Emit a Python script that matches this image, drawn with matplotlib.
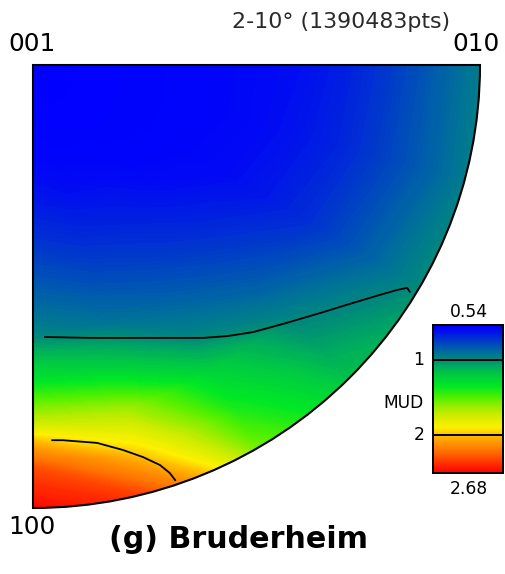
import numpy as np
import matplotlib
matplotlib.use("Agg")
import matplotlib.pyplot as plt
from matplotlib.colors import LinearSegmentedColormap, FuncNorm
from matplotlib.patches import Wedge

# MUD values on a polar grid centred on 001
# rows: angle from the 001-010 edge (deg), columns: distance from 001 (1 = primitive circle)
theta_deg = [0, 15, 30, 45, 60, 75, 90]
radius = [0, 0.1, 0.2, 0.3, 0.4, 0.5, 0.6, 0.7, 0.8, 0.9, 1.0]
mud = [
    [0.55, 0.55, 0.56, 0.57, 0.58, 0.60, 0.62, 0.67, 0.75, 0.85, 0.95],
    [0.55, 0.55, 0.56, 0.57, 0.58, 0.60, 0.63, 0.68, 0.76, 0.85, 0.95],
    [0.55, 0.55, 0.56, 0.57, 0.59, 0.61, 0.65, 0.71, 0.80, 0.90, 1.00],
    [0.55, 0.55, 0.56, 0.58, 0.62, 0.68, 0.76, 0.85, 0.97, 1.07, 1.17],
    [0.55, 0.55, 0.57, 0.61, 0.67, 0.75, 0.85, 0.97, 1.25, 1.42, 1.58],
    [0.55, 0.55, 0.57, 0.62, 0.70, 0.80, 0.92, 1.22, 1.65, 1.97, 2.45],
    [0.55, 0.56, 0.58, 0.64, 0.73, 0.84, 0.96, 1.30, 1.72, 2.40, 2.68],
]

# contour lines as drawn (x toward 010, y toward 100, radius 1)
mud1_x = [0.027, 0.128, 0.380, 0.434, 0.492, 0.568, 0.642, 0.716, 0.776, 0.814, 0.837, 0.843]
mud1_y = [0.614, 0.616, 0.616, 0.612, 0.603, 0.582, 0.560, 0.537, 0.519, 0.508, 0.503, 0.512]
mud2_x = [0.043, 0.067, 0.143, 0.201, 0.246, 0.284, 0.306, 0.318]
mud2_y = [0.847, 0.847, 0.853, 0.869, 0.885, 0.903, 0.921, 0.937]

mud_min = 0.54
mud_max = 2.68
contour_levels = [1, 2]
title = "2-10° (1390483pts)"
panel_label = "(g) Bruderheim"

W, H = 506, 574

def fx(px):
    return px / W

def fy(py):
    return 1 - py / H

# colour scale is stretched: 1 and 2 sit at these fractions of the bar
norm_vals = [mud_min, 1, 2, mud_max]
norm_frac = [0, 0.236, 0.743, 1]
norm = FuncNorm((lambda v: np.interp(v, norm_vals, norm_frac),
                 lambda f: np.interp(f, norm_frac, norm_vals)),
                vmin=mud_min, vmax=mud_max)

cmap_vals = [0.54, 0.60, 0.75, 0.90, 1.00, 1.10, 1.20, 1.35, 1.50, 1.60, 1.72, 1.90,
             2.00, 2.10, 2.30, 2.50, 2.68]
cmap_cols = ["#0000ff", "#0008f5", "#003cc8", "#00709a", "#008c78", "#00b05a", "#00cc40",
             "#00e824", "#50f000", "#8cee00", "#c8ec00", "#fff000", "#ffc000", "#ffa000",
             "#ff7000", "#ff3200", "#ff0000"]
cmap_pos = np.interp(cmap_vals, norm_vals, norm_frac)
cmap = LinearSegmentedColormap.from_list("mud", list(zip(cmap_pos, cmap_cols)))

fig = plt.figure(figsize=(W / 100, H / 100), dpi=100)
ax = fig.add_axes([fx(33), fy(508), fx(480) - fx(33), fy(65) - fy(508)])
ax.set_xlim(0, 1)
ax.set_ylim(1, 0)
ax.axis("off")

T, R = np.meshgrid(np.radians(theta_deg), radius, indexing="ij")
Z = np.array(mud)

# push the mesh a little out so the chords cover the arc, then clip to the circle
grow = 1 / np.cos(np.radians(7.5))
X = R * np.cos(T) * grow
Y = R * np.sin(T) * grow
levels = np.linspace(mud_min, mud_max, 215)
cf = ax.contourf(X, Y, Z, levels=levels, cmap=cmap, norm=norm, antialiased=False)
cf.set_clip_path(Wedge((0, 0), 1, 0, 90, transform=ax.transData))

ax.plot(mud1_x, mud1_y, color="black", lw=1.3)
ax.plot(mud2_x, mud2_y, color="black", lw=1.3)

ax.add_patch(Wedge((0, 0), 1, 0, 90, fill=False, ec="black", lw=1.5, clip_on=False))

# colour bar
cax = fig.add_axes([fx(433), fy(473), fx(503) - fx(433), fy(325) - fy(473)])
grad = np.linspace(0, 1, 256)[:, None]
cax.imshow(grad, cmap=cmap, aspect="auto", extent=[0, 1, 1, 0], vmin=0, vmax=1)
cax.set_xlim(0, 1)
cax.set_ylim(1, 0)
cax.set_xticks([])
cax.set_yticks([])
for s in cax.spines.values():
    s.set_linewidth(1.4)
for lv in contour_levels:
    cax.axhline(norm(lv), color="black", lw=1.4)
    cax.text(-0.12, norm(lv), str(lv), ha="right", va="center", fontsize=12.3, clip_on=False)

fig.text(fx(469), fy(312), f"{mud_min:.2f}", ha="center", va="center", fontsize=12.3)
fig.text(fx(469), fy(489), f"{mud_max:.2f}", ha="center", va="center", fontsize=12.3)
fig.text(fx(424), fy(403), "MUD", ha="right", va="center", fontsize=12.3)

fig.text(fx(8), fy(44), "001", ha="left", va="center", fontsize=17.8)
fig.text(fx(500), fy(44), "010", ha="right", va="center", fontsize=17.8)
fig.text(fx(8), fy(527), "100", ha="left", va="center", fontsize=17.8)
fig.text(fx(341), fy(22), title, ha="center", va="center", fontsize=15.9, color="#2a2a2a")
fig.text(fx(239), fy(540), panel_label, ha="center", va="center",
         fontsize=21.7, fontweight="bold")

fig.savefig("out.png", dpi=100)
